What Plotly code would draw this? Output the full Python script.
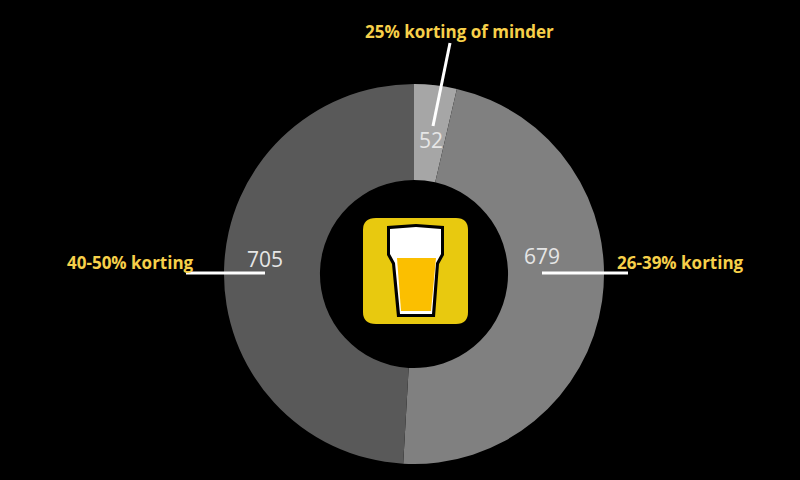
import plotly.graph_objects as go

categories = ['25% korting of minder', '26-39% korting', '40-50% korting']
values = [52, 679, 705]
colors = ['#a6a6a6', '#808080', '#595959']

W, H = 800, 480


# pixel -> paper
def px(x):
    return x / W


def py(y):
    return 1 - y / H


def path(points):
    return 'M ' + ' L '.join(f'{px(x)} {py(y)}' for x, y in points) + ' Z'


fig = go.Figure(go.Pie(
    labels=categories, values=values, sort=False, direction='clockwise', rotation=0,
    hole=0.495, textinfo='none', hoverinfo='label+value',
    marker=dict(colors=colors, line=dict(width=0)),
    domain=dict(x=[px(224), px(604)], y=[py(464), py(84)]),
    showlegend=False,
))

# aanwijslijnen
lijnen = [((450, 43), (433, 126)), ((542, 273), (628, 273)), ((186, 273), (265, 273))]
for (x0, y0), (x1, y1) in lijnen:
    fig.add_shape(type='line', xref='paper', yref='paper', x0=px(x0), y0=py(y0), x1=px(x1), y1=py(y1),
                  line=dict(color='white', width=3))

# icoon: geel vlak met bierglas
fig.add_shape(type='path', xref='paper', yref='paper', fillcolor='#e8c90f', line_width=0,
              path=f'M {px(376)} {py(218)} L {px(456)} {py(218)} Q {px(468)} {py(218)} {px(468)} {py(230)} '
                   f'L {px(468)} {py(312)} Q {px(468)} {py(324)} {px(456)} {py(324)} L {px(376)} {py(324)} '
                   f'Q {px(363)} {py(324)} {px(363)} {py(312)} L {px(363)} {py(230)} Q {px(363)} {py(218)} {px(376)} {py(218)} Z')
glas = [(387, 226), (416, 224), (444, 226), (444, 255), (439, 264), (435, 317), (397, 317), (392, 264), (387, 255)]
schuim = [(390, 229), (416, 227), (441, 229), (441, 254), (436, 263), (432, 314), (400, 314), (395, 263), (390, 254)]
bier = [(397, 258), (436, 258), (431, 311), (401, 311)]
for punten, kleur in [(glas, '#000000'), (schuim, '#ffffff'), (bier, '#fbbf00')]:
    fig.add_shape(type='path', xref='paper', yref='paper', path=path(punten), fillcolor=kleur, line_width=0)

tekst_kleur = '#f7d04a'
label_pos = [(460, 32), (680, 262), (130, 262)]
for naam, (x, y) in zip(categories, label_pos):
    fig.add_annotation(text=f'<b>{naam}</b>', x=px(x), y=py(y), xref='paper', yref='paper', showarrow=False,
                       xanchor='center', yanchor='middle',
                       font=dict(family='Open Sans', size=17, color=tekst_kleur))

waarde_pos = [(431, 140), (542, 256), (265, 259)]
for v, (x, y) in zip(values, waarde_pos):
    fig.add_annotation(text=str(v), x=px(x), y=py(y), xref='paper', yref='paper', showarrow=False,
                       xanchor='center', yanchor='middle',
                       font=dict(family='Open Sans', size=21, color='#e6e6e6'))

fig.update_layout(width=W, height=H, margin=dict(l=0, r=0, t=0, b=0),
                  paper_bgcolor='black', plot_bgcolor='black')
fig.write_html('out.html', config=dict(displayModeBar=False),
               post_script="document.body.style.margin='0';document.body.style.background='black';")
